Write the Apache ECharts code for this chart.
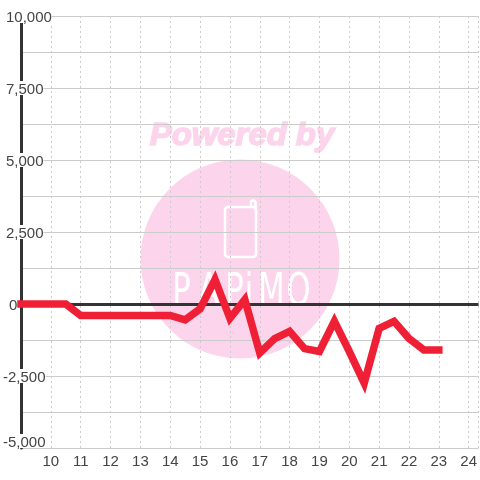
<!DOCTYPE html>
<html><head><meta charset="utf-8">
<style>html,body{margin:0;padding:0;background:#fff}#c{width:480px;height:480px}</style>
<script src="https://cdn.jsdelivr.net/npm/echarts@6/dist/echarts.min.js"></script>
</head><body><div id="c"></div>
<script>
const hours = [9,10,10.5,11,12,13,14,14.5,15,15.5,16,16.5,17,17.5,18,18.5,19,19.5,20,20.5,21,21.5,22,22.5,23];
const values = [0,0,0,-400,-400,-400,-400,-550,-170,850,-500,150,-1700,-1200,-950,-1550,-1650,-600,-1650,-2750,-850,-600,-1200,-1600,-1600];
const yTickLabels = {'10000':'10,000','7500':'7,500','5000':'5,000','2500':'2,500','0':'0','-2500':'-2,500','-5000':'-5,000'};
const logoLetters = ['P','A','P','i','M','O'];
const logoCentres = [181.5,209,234.5,249,271.5,298.5];
const font = '"Liberation Sans", Arial, sans-serif';
const chart = echarts.init(document.getElementById('c'), null, {renderer:'canvas'});
const pink = '#fcd5ec';
chart.setOption({
  animation:false,
  backgroundColor:'#fff',
  grid:{left:20,right:0,top:16,bottom:32,containLabel:false},
  graphic:[
    {type:'circle',z:-5,shape:{cx:240,cy:259,r:99.5},style:{fill:pink}},
    {type:'text',z:-5,x:242,y:136,scaleX:1.06,originX:0,originY:0,style:{text:'Powered by',font:'italic bold 31px '+font,fill:pink,stroke:pink,lineWidth:1.5,align:'center',verticalAlign:'middle'}},
    {type:'rect',z:-4,shape:{x:225,y:207,width:31,height:50,r:3},style:{fill:'none',stroke:'#fff',lineWidth:2.5}},
    {type:'polyline',z:-4,shape:{points:[[251,207],[251,202],[252,200.5],[254,200.5],[255.5,202],[255.5,210]]},style:{fill:'none',stroke:'#fff',lineWidth:2.5}},
  ].concat(logoLetters.map((ch,i)=>({type:'text',z:-4,x:logoCentres[i],y:293,scaleY:1.25,scaleX:0.85,originX:0,originY:0,
    style:{text:ch,font:'36px "DejaVu Sans"',fill:'#fff',align:'center',verticalAlign:'middle'}}))),
  xAxis:{type:'value',min:9,max:24.33,interval:1,
    axisLine:{show:true,lineStyle:{color:'#ccc',width:1}},axisTick:{show:false},
    axisLabel:{color:'#444',fontFamily:font,fontSize:15,margin:6,showMinLabel:false,showMaxLabel:false,hideOverlap:false,
      formatter:v=>String(v)},
    splitLine:{show:true,lineStyle:{color:'#ccc',type:[2,3],width:1}}},
  yAxis:{type:'value',min:-5000,max:10000,interval:1250,
    axisLine:{show:true,onZero:false,lineStyle:{color:'#333',width:3}},axisTick:{show:false},
    splitLine:{show:true,lineStyle:{color:'#ccc',width:1}},
    axisLabel:{show:true,margin:18,align:'left',hideOverlap:false,verticalAlignMinLabel:'bottom',
      formatter:v=>{
        const t=yTickLabels[String(v)];
        if(!t) return '';
        if(v===0) return '{z|'+t+'}';
        if(v<0) return '{n|'+t+'}';
        return '{p|'+t+'}';
      },
      rich:{
        z:{color:'#444',fontFamily:font,fontSize:15,padding:[3,0,0,6]},
        n:{color:'#444',fontFamily:font,fontSize:15,height:11,backgroundColor:'#fff',padding:[3,0,0,0]},
        p:{color:'#444',fontFamily:font,fontSize:15,height:11,backgroundColor:'#fff',padding:[3,0,0,3]}
      }}},
  series:[{type:'line',data:hours.map((h,i)=>[h,values[i]]),showSymbol:false,symbol:'none',z:5,clip:false,
    lineStyle:{color:'#ef2036',width:7.5,cap:'square',join:'miter'},
    markLine:{silent:true,symbol:'none',z:3,label:{show:false},lineStyle:{color:'#333',width:3,type:'solid'},data:[{yAxis:0}],animation:false}}]
});
</script></body></html>
